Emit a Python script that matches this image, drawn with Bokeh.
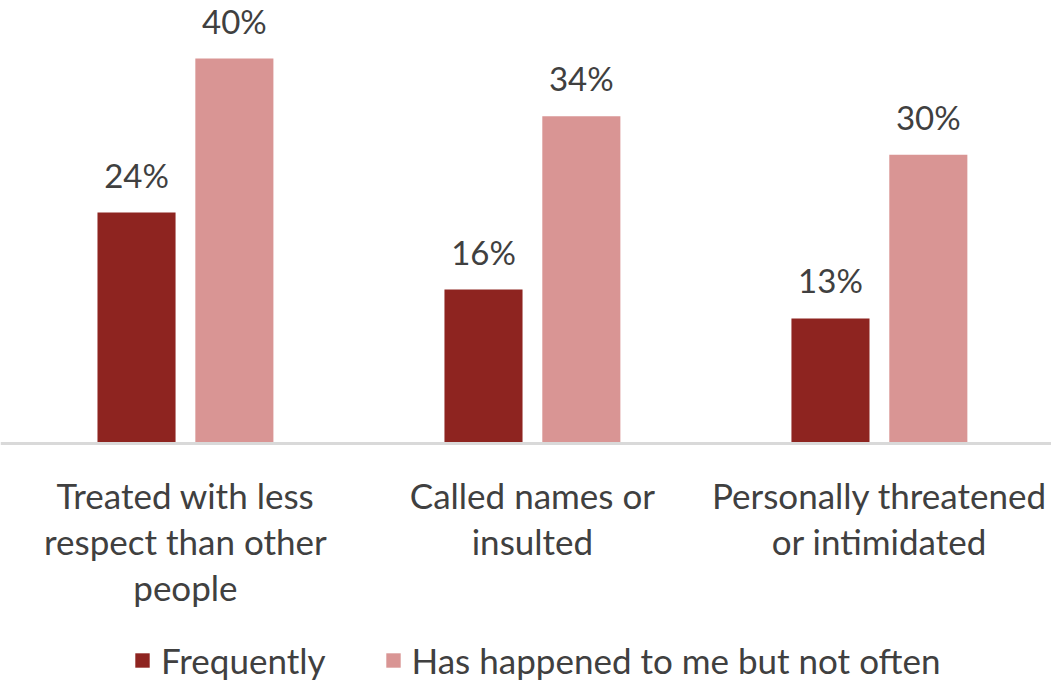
import numpy as np
from bokeh.plotting import figure
from bokeh.models import Range1d, Legend, LegendItem, ColumnDataSource, Span
from bokeh.core.properties import value
from bokeh.embed import file_html
from bokeh.resources import INLINE

categories = ["Treated with less\nrespect than other\npeople", "Called names or\ninsulted", "Personally threatened\nor intimidated"]
series_names = ["Frequently", "Has happened to me but not often"]
frequently = [24, 16, 13]
not_often = [40, 34, 30]
colors = ["#8E2420", "#D99594"]

FONT = "Lato"
TXT = "#404040"

p = figure(width=1051, height=685, output_backend="svg", toolbar_location=None,
           x_range=Range1d(-0.533, 2.496), y_range=Range1d(-25.14, 46.03),
           min_border_left=0, min_border_right=0, min_border_top=0, min_border_bottom=0)
p.outline_line_color = None
p.grid.visible = False
p.axis.visible = False

idx = np.arange(len(categories))
off = 0.141
w = 0.225
src1 = ColumnDataSource(dict(x=idx - off, top=frequently, lab=[f"{v}%" for v in frequently]))
src2 = ColumnDataSource(dict(x=idx + off, top=not_often, lab=[f"{v}%" for v in not_often]))
r1 = p.vbar(x="x", top="top", width=w, bottom=0, source=src1, fill_color=colors[0], line_color=None)
r2 = p.vbar(x="x", top="top", width=w, bottom=0, source=src2, fill_color=colors[1], line_color=None)

for s in (src1, src2):
    p.text(x="x", y="top", text="lab", source=s, text_align="center", text_baseline="middle",
           y_offset=-38, text_font=value(FONT), text_font_size="33px", text_color=TXT)

# category axis line and labels
p.add_layout(Span(location=0, dimension="width", line_color="#D9D9D9", line_width=3))
csrc = ColumnDataSource(dict(x=idx, y=np.zeros(len(idx)), t=categories))
p.text(x="x", y="y", text="t", source=csrc, text_align="center", text_baseline="top",
       y_offset=30, text_font=value(FONT), text_font_size="35px", text_color=TXT,
       text_line_height=1.1)

legend = Legend(items=[LegendItem(label=series_names[0], renderers=[r1]),
                       LegendItem(label=series_names[1], renderers=[r2])],
                orientation="horizontal", location=(133, 4),
                glyph_width=18, glyph_height=18, label_standoff=10, spacing=58,
                label_text_font=FONT, label_text_font_size="35px", label_text_color=TXT,
                border_line_color=None, background_fill_alpha=0, padding=0, margin=0)
p.add_layout(legend, "center")

open("out.html", "w").write(file_html(p, INLINE))
